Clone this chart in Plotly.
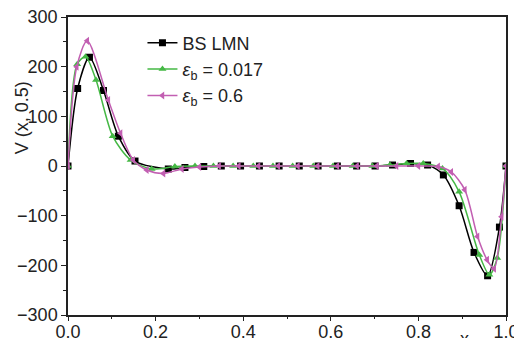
import plotly.graph_objects as go

# BS LMN (black squares)
bs_x = [0.0, 0.022, 0.049, 0.081, 0.115, 0.153, 0.229, 0.267, 0.31, 0.35, 0.394, 0.437,
        0.482, 0.528, 0.571, 0.615, 0.659, 0.701, 0.741, 0.782, 0.821, 0.857, 0.893,
        0.927, 0.958, 0.985, 1.0]
bs_v = [0, 156, 219, 152, 60, 10, -6, -3, -1, 0, 0, 0,
        0, 0, 0, 0, 0, 0, 2, 5, 2, -18, -80,
        -174, -221, -123, 0]

# eps_b = 0.017 (green up-triangles)
g_x = [0.0, 0.021, 0.04, 0.064, 0.102, 0.143, 0.191, 0.244, 0.29, 0.332, 0.377, 0.423,
       0.468, 0.513, 0.56, 0.605, 0.65, 0.695, 0.735, 0.773, 0.811, 0.855, 0.893,
       0.939, 0.962, 0.98, 1.0]
g_v = [0, 205, 220, 173, 60, 12, -6, -1, 0, 0, 0, 0,
       0, 0, 0, 0, 0, 0, 2, 5, 5, -5, -52,
       -179, -219, -185, 0]

# eps_b = 0.6 (magenta left-triangles)
m_x = [0.0, 0.02, 0.044, 0.092, 0.12, 0.149, 0.18, 0.218, 0.26, 0.3, 0.345, 0.39,
       0.435, 0.48, 0.525, 0.57, 0.615, 0.66, 0.705, 0.75, 0.8, 0.845, 0.875,
       0.906, 0.935, 0.957, 0.973, 0.99, 1.0]
m_v = [0, 200, 252, 133, 66, 12, -8, -15, -6, -2, 0, 0,
       0, 0, 0, 0, 0, 0, 0, 0, 0, -1, -12,
       -48, -142, -189, -207, -102, 0]

x_ticks = [0, 0.2, 0.4, 0.6, 0.8, 1.0]
x_labels = ["0.0", "0.2", "0.4", "0.6", "0.8", "1.0"]
y_ticks = [-300, -200, -100, 0, 100, 200, 300]
y_labels = ["\u2212300", "\u2212200", "\u2212100", "0", "100", "200", "300"]

names = ["BS LMN", "<i>ε</i><sub>b</sub> = 0.017", "<i>ε</i><sub>b</sub> = 0.6"]
colors = ["#000000", "#45b845", "#c25fb2"]
symbols = ["square", "triangle-up", "triangle-left"]

FONT = "Liberation Sans, Arial, sans-serif"
FS = 18

fig = go.Figure()
for xs, vs, nm, c, s in zip([bs_x, g_x, m_x], [bs_v, g_v, m_v], names, colors, symbols):
    fig.add_trace(go.Scatter(
        x=xs, y=vs, name=nm, mode="lines+markers",
        line=dict(color=c, width=1.5, shape="spline", smoothing=0.8),
        marker=dict(symbol=s, size=7, color=c),
    ))

axis_common = dict(
    showline=True, linecolor="#222", linewidth=1.5, mirror=True,
    ticks="outside", tickwidth=1.2, tickcolor="#222",
    showgrid=False, zeroline=False, automargin=False,
    ticklabeloverflow="allow",
    tickfont=dict(family=FONT, size=FS, color="#222"),
)

fig.update_layout(
    width=514, height=338,
    margin=dict(l=68, r=8, t=17, b=23),
    paper_bgcolor="white", plot_bgcolor="white",
    font=dict(family=FONT, size=FS, color="#222"),
    xaxis=dict(range=[0, 1.0], tickvals=x_ticks, ticktext=x_labels, ticklen=4,
               ticklabelstandoff=-4,
               minor=dict(dtick=0.1, ticks="outside", ticklen=2, tickcolor="#222"),
               **axis_common),
    yaxis=dict(range=[-300, 300], tickvals=y_ticks, ticktext=y_labels, ticklen=5,
               minor=dict(dtick=50, ticks="outside", ticklen=3, tickcolor="#222"),
               **axis_common),
    legend=dict(x=0.17, y=0.975, xanchor="left", yanchor="top",
                bgcolor="rgba(0,0,0,0)", font=dict(family=FONT, size=FS),
                itemwidth=30, tracegroupgap=0),
    showlegend=True,
)

fig.add_annotation(text="V (x, 0.5)", xref="paper", yref="paper", x=-0.105, y=0.66,
                   xanchor="center", yanchor="middle", textangle=-90, showarrow=False,
                   font=dict(family=FONT, size=FS, color="#222"))
fig.add_annotation(text="x", xref="x", yref="paper", x=0.905, y=-0.08,
                   yanchor="middle", showarrow=False,
                   font=dict(family=FONT, size=FS, color="#222"))

fig.write_html("out.html")
